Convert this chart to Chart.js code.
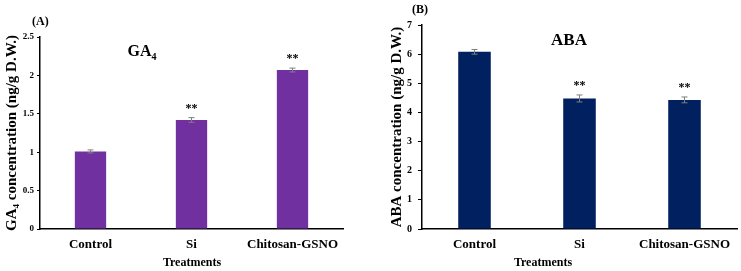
<!DOCTYPE html>
<html>
<head>
<meta charset="utf-8">
<script src="https://cdn.jsdelivr.net/npm/chart.js@4"></script>
<style>
  body { margin: 0; background: #fff; }
  .box { position: absolute; top: 0; height: 271px; }
  #boxA { left: 0; width: 370px; }
  #boxB { left: 370px; width: 371px; }
</style>
</head>
<body>
<div class="box" id="boxA"><canvas id="chartA"></canvas></div>
<div class="box" id="boxB"><canvas id="chartB"></canvas></div>
<script>
const categories = ['Control', 'Si', 'Chitosan-GSNO'];
const ga4Values = [1.01, 1.42, 2.07];
const ga4Errors = [0.02, 0.03, 0.025];
const ga4Marks = ['', '**', '**'];
const ga4Ticks = [0, 0.5, 1, 1.5, 2, 2.5];
const abaValues = [6.08, 4.48, 4.43];
const abaErrors = [0.08, 0.12, 0.1];
const abaMarks = ['', '**', '**'];
const abaTicks = [0, 1, 2, 3, 4, 5, 6, 7];

const serif = '"Liberation Serif", "Times New Roman", serif';

// error bars, asterisks, panel letter, x title and in-plot title
const extras = {
  id: 'extras',
  afterDatasetsDraw(chart, args, opts) {
    const ctx = chart.ctx;
    const meta = chart.getDatasetMeta(0);
    const y = chart.scales.y;
    ctx.save();
    meta.data.forEach((bar, i) => {
      const v = opts.values[i], e = opts.errors[i];
      const top = y.getPixelForValue(v + e);
      const bot = y.getPixelForValue(v - e);
      ctx.strokeStyle = '#7f7f7f';
      ctx.lineWidth = 1;
      ctx.beginPath();
      ctx.moveTo(bar.x, top); ctx.lineTo(bar.x, bot);
      ctx.moveTo(bar.x - 3, top); ctx.lineTo(bar.x + 3, top);
      ctx.moveTo(bar.x - 3, bot); ctx.lineTo(bar.x + 3, bot);
      ctx.stroke();
      if (opts.marks[i]) {
        ctx.fillStyle = '#000';
        ctx.font = 'bold 12px ' + serif;
        ctx.textAlign = 'center';
        ctx.textBaseline = 'middle';
        ctx.fillText(opts.marks[i], bar.x, top - 9);
      }
    });
    ctx.fillStyle = '#000';
    ctx.textBaseline = 'middle';
    // x axis title (off-centre in panel B)
    ctx.textAlign = 'center';
    ctx.font = 'bold 12px ' + serif;
    ctx.fillText('Treatments', opts.xTitleX, 263);
    // panel letter
    ctx.textAlign = 'left';
    ctx.fillText(opts.letter, opts.letterX, opts.letterY);
    // title with optional subscript
    ctx.font = 'bold ' + opts.titleSize + 'px ' + serif;
    const w1 = ctx.measureText(opts.title).width;
    ctx.font = 'bold ' + Math.round(opts.titleSize * 0.65) + 'px ' + serif;
    const w2 = opts.sub ? ctx.measureText(opts.sub).width : 0;
    let x0 = opts.titleX - (w1 + w2) / 2;
    ctx.font = 'bold ' + opts.titleSize + 'px ' + serif;
    ctx.fillText(opts.title, x0, opts.titleY);
    if (opts.sub) {
      ctx.font = 'bold ' + Math.round(opts.titleSize * 0.65) + 'px ' + serif;
      ctx.fillText(opts.sub, x0 + w1, opts.titleY + 5);
    }
    ctx.restore();
  }
};

function makeChart(id, values, errors, marks, ticks, color, cfg) {
  return new Chart(document.getElementById(id), {
    type: 'bar',
    data: {
      labels: categories,
      datasets: [{
        data: values,
        backgroundColor: color,
        borderWidth: 0,
        barPercentage: 0.31,
        categoryPercentage: 1
      }]
    },
    options: {
      responsive: true,
      maintainAspectRatio: false,
      animation: false,
      layout: { padding: { left: cfg.padLeft, right: cfg.padRight, top: cfg.padTop, bottom: 0 } },
      plugins: {
        legend: { display: false },
        tooltip: { enabled: false },
        extras: {
          values: values, errors: errors, marks: marks, xTitleX: cfg.xTitleX,
          letter: cfg.letter, letterX: cfg.letterX, letterY: cfg.letterY,
          title: cfg.title, sub: cfg.sub, titleX: cfg.titleX, titleY: cfg.titleY,
          titleSize: cfg.titleSize
        }
      },
      scales: {
        x: {
          grid: { display: false, drawTicks: false },
          border: { display: true, color: '#000', width: 1.5 },
          ticks: { color: '#000', padding: 8, font: { family: serif, size: 13, weight: 'bold' } },
          afterFit: (s) => { s.height = 42; }
        },
        y: {
          min: ticks[0],
          max: ticks[ticks.length - 1],
          afterBuildTicks: (s) => { s.ticks = ticks.map(v => ({ value: v })); },
          grid: { drawOnChartArea: false, drawTicks: true, tickLength: cfg.tickLen, color: '#000' },
          border: { display: true, color: '#000', width: 1.5 },
          ticks: { color: '#000', padding: cfg.tickPad, font: { family: serif, size: cfg.tickSize, weight: 'bold' },
                   callback: (v) => String(v) },
          title: { display: true, text: cfg.yTitle, color: '#000', padding: { top: cfg.yTitlePad, bottom: 0 },
                   font: { family: serif, size: 15, weight: 'bold' } },
          afterFit: (s) => { s.width = cfg.yWidth; }
        }
      }
    },
    plugins: [extras]
  });
}

makeChart('chartA', ga4Values, ga4Errors, ga4Marks, ga4Ticks, '#7030a0', {
  padLeft: 0, padRight: 27, padTop: 37, yWidth: 40, tickLen: 3, tickPad: 3, tickSize: 9,
  yTitle: 'GA\u2084 concentration (ng/g D.W.)', yTitlePad: 3, xTitleX: 192,
  letter: '(A)', letterX: 32, letterY: 22,
  title: 'GA', sub: '4', titleX: 142, titleY: 52, titleSize: 16
});

makeChart('chartB', abaValues, abaErrors, abaMarks, abaTicks, '#002060', {
  padLeft: 18, padRight: 4, padTop: 25, yWidth: 34, tickLen: 4, tickPad: 6, tickSize: 10,
  yTitle: 'ABA concentration (ng/g D.W.)', yTitlePad: 0, xTitleX: 173,
  letter: '(B)', letterX: 42, letterY: 10,
  title: 'ABA', sub: '', titleX: 199, titleY: 41, titleSize: 17
});
</script>
</body>
</html>
